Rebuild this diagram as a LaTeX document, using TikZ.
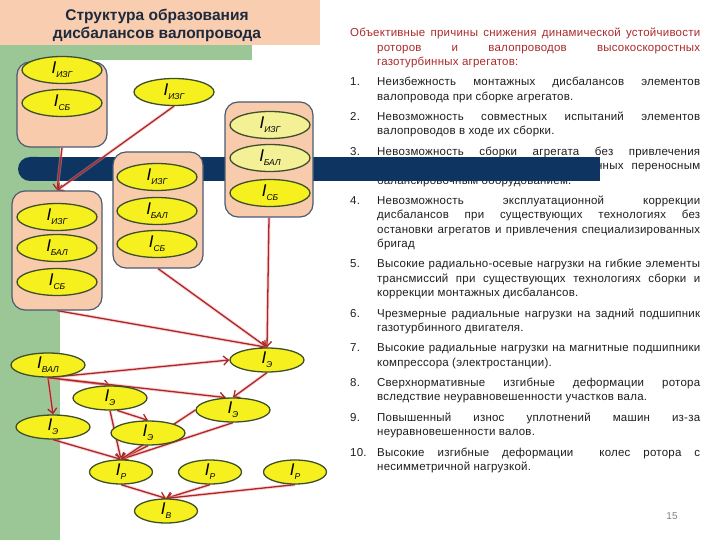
\documentclass[tikz,border=0pt]{standalone}
\usepackage{fontspec}
\setmainfont{Liberation Sans}
\newfontfamily\txtfont[LetterSpace=2]{Liberation Sans}
\usepackage{tikz}
\usepackage{xcolor}
\usetikzlibrary{arrows,arrows.meta,backgrounds,shapes}

\definecolor{peach}{RGB}{249,205,176}
\definecolor{boxpeach}{RGB}{248,203,173}
\definecolor{boxline}{RGB}{75,91,114}
\definecolor{sidegreen}{RGB}{155,199,151}
\definecolor{barnavy}{RGB}{14,53,97}
\definecolor{ellyel}{RGB}{245,240,30}
\definecolor{ellpale}{RGB}{243,240,150}
\definecolor{ellline}{RGB}{62,80,42}
\definecolor{linkred}{RGB}{168,40,44}
\definecolor{headred}{RGB}{170,42,42}
\definecolor{titleblue}{RGB}{30,42,60}
\definecolor{bodygray}{RGB}{30,30,30}

\pgfdeclarelayer{back}
\pgfdeclarelayer{links}
\pgfsetlayers{back,links,main}

\newcommand{\Isub}[1]{{\fontsize{17}{17}\selectfont\itshape I}\raisebox{-4pt}{\fontsize{8.5}{8.5}\selectfont\itshape #1}}
\newcommand{\cause}[1]{\par\hangindent=27pt\hangafter=1\makebox[27pt][l]{#1}}

\tikzstyle{stack}	= [rectangle, rounded corners=13pt, draw=boxline, fill=boxpeach, line width=1.2pt, inner sep=0pt]
\tikzstyle{ell}		= [ellipse, draw=ellline, fill=ellyel, line width=1.3pt, minimum width=80pt, minimum height=27pt, inner sep=0pt]
\tikzstyle{ellp}	= [ell, fill=ellpale]
\tikzstyle{small}	= [ell, minimum width=74pt, minimum height=24pt]
\tikzstyle{smallr}	= [ell, minimum width=63pt, minimum height=24pt]
\tikzstyle{link}	= [draw, linkred, line width=1.3pt, -{Straight Barb[length=5pt,width=9pt]}, preaction={-, draw=red!40, opacity=0.45, line width=3.2pt}]

\begin{document}
\begin{tikzpicture}[x=1pt, y=-1pt]
		\useasboundingbox (0,0) rectangle (720,540);
		
		\begin{pgfonlayer}{back}
		%%%% Frame of the slide
		\fill[sidegreen] (0,45) rectangle (252,60);
		\fill[sidegreen] (0,45) rectangle (60,540);
		\fill[peach] (0,0) rectangle (320,45);
		\node[font=\bfseries\fontsize{15.5}{18}\selectfont, text=titleblue, align=center] (title) at (157,25) {Структура образования\\дисбалансов валопровода};
		\node[text=gray, font=\fontsize{10}{10}\selectfont] (page) at (672,516) {15};
		
		%%%% Causes
		\node[anchor=north west, inner sep=0pt, text width=350pt, align=justify, text=bodygray, font=\txtfont\fontsize{11.5}{14.3}\selectfont] (causes) at (350,28) {%
			\parindent=0pt \parskip=6.2pt \hyphenpenalty=10000 \exhyphenpenalty=10000 \tolerance=10000
			{\color{headred}\hangindent=27pt\hangafter=1 Объективные причины снижения динамической устойчивости \linebreak роторов и валопроводов высокоскоростных \linebreak газотурбинных агрегатов:\par}
			\cause{1.}Неизбежность монтажных дисбалансов элементов \linebreak валопровода при сборке агрегатов.
			\cause{2.}Невозможность совместных испытаний элементов \linebreak валопроводов в ходе их сборки.
			\cause{3.}Невозможность сборки агрегата без привлечения \linebreak специализированных бригад, оснащенных переносным \linebreak балансировочным оборудованием.
			\cause{4.}Невозможность эксплуатационной коррекции \linebreak дисбалансов при существующих технологиях без \linebreak остановки агрегатов и привлечения специализированных \linebreak бригад
			\cause{5.}Высокие радиально-осевые нагрузки на гибкие элементы \linebreak трансмиссий при существующих технологиях сборки и \linebreak коррекции монтажных дисбалансов.
			\cause{6.}Чрезмерные радиальные нагрузки на задний подшипник \linebreak газотурбинного двигателя.
			\cause{7.}Высокие радиальные нагрузки на магнитные подшипники \linebreak компрессора (электростанции).
			\cause{8.}Сверхнормативные изгибные деформации ротора \linebreak вследствие неуравновешенности участков вала.
			\cause{9.}Повышенный износ уплотнений машин из-за \linebreak неуравновешенности валов.
			\cause{10.}Высокие изгибные деформации \ колес ротора с \linebreak несимметричной нагрузкой.\par};
		
		%%%% Shaft bar
		\fill[barnavy, rounded corners=12pt] (18,157) rectangle (50,181);
		\fill[barnavy] (35,157) rectangle (600,181);
		\end{pgfonlayer}
		
		%%%%% Stacks
		\node[stack, minimum width=90pt, minimum height=85pt] (s1) at (62,104.5) {};
		\node[stack, minimum width=90pt, minimum height=116pt] (s2) at (158,210) {};
		\node[stack, minimum width=88pt, minimum height=115pt] (s3) at (269,159.5) {};
		\node[stack, minimum width=90pt, minimum height=119pt] (s4) at (57,250.5) {};
		
		\foreach \pos/\name/\sub in {{(62,70)/s1a/ИЗГ}, {(62,103)/s1b/СБ}, {(157,177)/s2a/ИЗГ}, {(157,211)/s2b/БАЛ}, {(157,244)/s2c/СБ}, {(270,193)/s3c/СБ}, {(57,217)/s4a/ИЗГ}, {(57,248)/s4b/БАЛ}, {(57,282)/s4c/СБ}, {(174,92)/free/ИЗГ}}
		\node[ell] (\name) at \pos {\Isub{\sub}};
		
		\foreach \pos/\name/\sub in {{(270,125)/s3a/ИЗГ}, {(270,158)/s3b/БАЛ}}
		\node[ellp] (\name) at \pos {\Isub{\sub}};
		
		%%%% Shaft and elements
		\foreach \pos/\name/\sub in {{(48,365)/val/ВАЛ}, {(267,360)/ea/Э}, {(110,398)/eb/Э}, {(233,410)/ec/Э}, {(53,427)/ed/Э}, {(148,433)/ee/Э}}
		\node[small] (\name) at \pos {\Isub{\sub}};
		
		\foreach \pos/\name/\sub in {{(121,472)/r1/Р}, {(210,472)/r2/Р}, {(295,472)/r3/Р}, {(166,511)/v/В}}
		\node[smallr] (\name) at \pos {\Isub{\sub}};
		
		%%%% Links
		\begin{pgfonlayer}{links}
		\foreach \source/ \dest in {s1.south/s4.north, free.south/s4.north, s4.south/ea.north, s2.south/ea.north, s3.south/ea.north}	\path[link] (\source) -- (\dest) ;
		\foreach \source/ \dest in {val.south/ea.west, val.south/ed.north, val.south/eb.north, val.south/ec.120, ea.south/ec.north, eb.-60/ee.north}	\path[link] (\source) -- (\dest) ;
		\foreach \source/ \dest in {eb.south/r1.north, ed.south/r1.north, ee.south/r1.north, ec.south/r1.north, ec.west/r1.north}	\path[link] (\source) -- (\dest) ;
		\foreach \source/ \dest in {r1.south/v.north, r2.south/v.north, r3.south/v.north}	\path[link] (\source) -- (\dest) ;
		\end{pgfonlayer}
\end{tikzpicture}
\end{document}
